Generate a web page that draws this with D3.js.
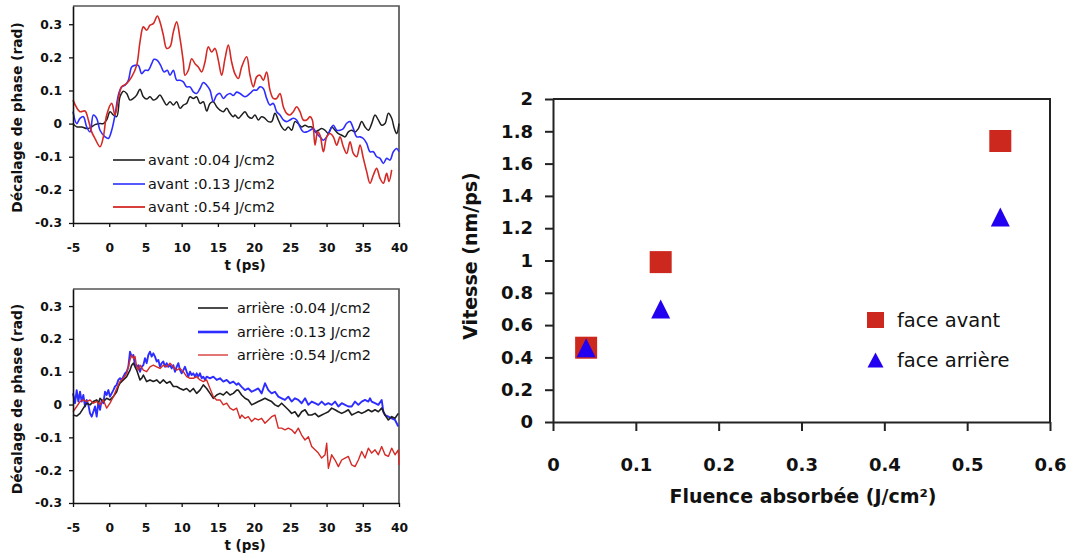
<!DOCTYPE html>
<html><head><meta charset="utf-8">
<script src="https://cdn.jsdelivr.net/npm/d3@7"></script>
<style>body{margin:0;background:#fff}svg{display:block}</style>
</head><body>
<svg id="c" width="1074" height="555"></svg>
<script>
// ---------- data ----------
const tTicks = [-5, 0, 5, 10, 15, 20, 25, 30, 35, 40];
const phaseTicks = [-0.3, -0.2, -0.1, 0, 0.1, 0.2, 0.3];
const phaseLabel = "Décalage de phase (rad)";
const timeLabel = "t (ps)";

const avant004 = [[-5,0],[-4.49,-0.01],[-3.8,-0.01],[-3.11,-0.015],[-2.65,-0.013],[-1.96,-0.003],[-1.27,0],[-0.81,0],[-0.35,0.011],[0.11,0.036],[0.57,0.026],[1.03,0.021],[1.49,0.081],[1.95,0.098],[2.41,0.091],[2.87,0.071],[3.33,0.076],[3.79,0.086],[4.25,0.104],[4.71,0.081],[5.17,0.074],[5.63,0.081],[6.09,0.071],[6.55,0.076],[7.01,0.086],[7.47,0.071],[7.93,0.056],[8.39,0.066],[8.85,0.056],[9.31,0.066],[9.77,0.046],[10.23,0.056],[10.69,0.061],[11.15,0.081],[11.61,0.076],[12.07,0.081],[12.53,0.061],[12.99,0.066],[13.45,0.038],[13.91,0.061],[14.37,0.066],[14.83,0.051],[15.29,0.041],[15.75,0.036],[16.21,0.046],[16.67,0.031],[17.13,0.021],[17.36,0.026],[17.82,0.016],[18.28,0.026],[18.74,0.036],[19.2,0.021],[19.66,0.016],[20.12,0.026],[20.58,0.011],[21.04,0.021],[21.5,0.016],[21.96,0.006],[22.42,0.006],[22.88,0.031],[23.34,0.011],[23.8,-0.01],[24.26,-0.02],[24.72,-0.01],[25.18,-0.02],[25.64,0.006],[26.1,0],[26.56,-0.01],[27.03,-0.005],[27.49,-0.01],[27.95,-0.01],[28.41,-0.025],[28.87,-0.02],[29.33,-0.015],[29.79,-0.02],[30.25,-0.03],[30.71,-0.01],[31.17,-0.02],[31.63,-0.03],[32.09,-0.035],[32.55,-0.04],[33.01,-0.025],[33.47,-0.02],[33.93,-0.025],[34.39,-0.015],[34.85,0.006],[35.31,-0.01],[35.77,-0.02],[36.23,0],[36.69,0.026],[37.15,0.011],[37.61,-0.005],[38.07,0],[38.53,0.031],[38.99,0.016],[39.36,-0.015],[39.68,-0.03],[40,0]];

const avant013 = [[-5,0.036],[-4.49,0],[-4.03,0.016],[-3.57,0.021],[-3.11,-0.01],[-2.65,-0.025],[-2.19,0.026],[-1.73,0.016],[-1.27,-0.02],[-0.58,-0.04],[-0.12,-0.045],[0.34,-0.02],[0.8,0.026],[1.26,0.086],[1.72,0.111],[2.18,0.116],[2.64,0.131],[3.1,0.171],[3.56,0.176],[4.02,0.176],[4.48,0.151],[4.94,0.161],[5.4,0.161],[5.86,0.181],[6.18,0.194],[6.64,0.191],[7.1,0.176],[7.56,0.156],[8.02,0.161],[8.39,0.146],[8.85,0.161],[9.31,0.131],[9.77,0.131],[10.23,0.126],[10.69,0.111],[11.15,0.111],[11.61,0.096],[12.07,0.091],[12.53,0.106],[12.99,0.124],[13.45,0.116],[13.91,0.101],[14.37,0.066],[14.83,0.086],[15.29,0.091],[15.75,0.076],[16.21,0.086],[16.67,0.091],[17.13,0.085],[17.6,0.095],[18.05,0.091],[18.74,0.081],[19.43,0.091],[19.89,0.101],[20.35,0.101],[20.81,0.111],[21.27,0.106],[21.73,0.076],[22.19,0.056],[22.65,0.061],[23.11,0.036],[23.57,0.026],[24.03,0.011],[24.49,0.006],[24.95,0.011],[25.41,0.016],[25.87,0.011],[26.33,-0.01],[26.79,-0.025],[27.26,-0.025],[27.72,-0.02],[28.18,-0.015],[28.64,-0.03],[29.1,-0.04],[29.56,-0.05],[30.02,-0.04],[30.48,-0.02],[30.94,-0.005],[31.4,-0.02],[31.86,-0.02],[32.32,-0.015],[32.78,0.001],[33.24,0.006],[33.7,-0.015],[34.16,-0.04],[34.62,-0.04],[35.08,-0.045],[35.54,-0.06],[36,-0.085],[36.46,-0.085],[36.92,-0.1],[37.38,-0.105],[37.84,-0.12],[38.3,-0.105],[38.76,-0.11],[39.22,-0.085],[39.68,-0.075],[40,-0.085]];

const avant054 = [[-5,0.071],[-4.03,0.036],[-3.34,0.038],[-2.88,0.011],[-2.42,-0.025],[-1.96,-0.045],[-1.27,-0.07],[-0.81,-0.04],[-0.35,0.026],[0.34,0.061],[0.8,0.026],[1.26,0.076],[1.72,0.111],[2.41,0.121],[3.1,0.141],[3.79,0.176],[4.25,0.247],[4.71,0.292],[5.17,0.282],[5.63,0.297],[6.09,0.302],[6.64,0.325],[7.01,0.307],[7.47,0.267],[7.93,0.227],[8.39,0.232],[8.85,0.277],[9.31,0.307],[9.77,0.257],[10.23,0.186],[10.46,0.146],[10.92,0.161],[11.38,0.196],[11.84,0.181],[12.3,0.171],[12.76,0.156],[13.22,0.186],[13.68,0.232],[14.14,0.216],[14.6,0.227],[15.06,0.191],[15.52,0.146],[15.98,0.196],[16.44,0.237],[16.9,0.186],[17.36,0.15],[17.82,0.136],[18.28,0.171],[18.97,0.202],[19.43,0.146],[19.89,0.111],[20.35,0.141],[20.81,0.146],[21.27,0.131],[21.73,0.156],[22.19,0.101],[22.65,0.076],[23.11,0.076],[23.57,0.091],[24.03,0.051],[24.49,0.031],[24.95,0.026],[25.41,0.036],[25.87,0.051],[26.33,0.036],[26.79,0.011],[27.26,0.011],[27.72,0.021],[28.04,0.011],[28.41,-0.065],[28.77,-0.025],[29.1,-0.035],[29.56,-0.085],[30.02,-0.04],[30.48,-0.03],[30.94,-0.04],[31.4,-0.065],[31.86,-0.04],[32.32,-0.07],[32.78,-0.09],[33.24,-0.055],[33.7,-0.09],[34.16,-0.1],[34.62,-0.065],[35.08,-0.105],[35.54,-0.145],[36,-0.18],[36.46,-0.155],[36.92,-0.135],[37.38,-0.165],[37.84,-0.18],[38.3,-0.15],[38.62,-0.175],[38.99,-0.14]];

const arriere004 = [[-5,-0.032],[-4.49,-0.035],[-4.03,-0.027],[-3.57,-0.011],[-3.11,0.004],[-2.65,-0.001],[-2.19,0.009],[-1.73,0.014],[-1.5,0.004],[-1.27,0.019],[-0.81,0.009],[-0.35,0.019],[0.11,0.014],[0.57,0.024],[1.03,0.039],[1.26,0.055],[1.49,0.065],[1.95,0.075],[2.41,0.085],[2.87,0.105],[3.1,0.12],[3.33,0.126],[3.56,0.115],[3.79,0.105],[4.25,0.075],[4.48,0.08],[4.71,0.09],[5.17,0.07],[5.63,0.075],[6.09,0.07],[6.55,0.075],[7.01,0.065],[7.47,0.075],[7.93,0.065],[8.39,0.07],[8.85,0.055],[9.31,0.055],[9.77,0.049],[10.23,0.044],[10.69,0.049],[11.15,0.039],[11.61,0.049],[12.07,0.034],[12.53,0.044],[12.99,0.06],[13.45,0.049],[13.91,0.034],[14.37,0.019],[14.83,0.029],[15.29,0.034],[15.75,0.029],[16.21,0.039],[16.67,0.029],[17.13,0.034],[17.59,0.044],[17.82,0.044],[18.28,0.029],[18.74,0.019],[19.2,0.014],[19.66,-0.001],[20.12,0.004],[20.58,0.009],[21.04,0.014],[21.5,0.019],[21.96,0.014],[22.42,0.009],[22.88,-0.001],[23.34,-0.006],[23.8,0.004],[24.26,-0.006],[24.72,-0.016],[25.18,-0.027],[25.64,-0.022],[26.1,-0.037],[26.56,-0.022],[27.03,-0.016],[27.49,-0.032],[27.95,-0.032],[28.41,-0.027],[28.87,-0.037],[29.33,-0.032],[29.79,-0.027],[30.25,-0.022],[30.71,-0.011],[31.17,-0.016],[31.63,-0.022],[32.09,-0.027],[32.55,-0.022],[33.01,-0.016],[33.47,-0.032],[33.93,-0.027],[34.39,-0.022],[34.85,-0.027],[35.31,-0.022],[35.77,-0.016],[36.23,-0.022],[36.69,-0.016],[37.15,-0.022],[37.61,-0.011],[38.07,-0.032],[38.53,-0.047],[38.99,-0.037],[39.45,-0.042],[39.91,-0.027]];

const arriere013 = [[-5,0.034],[-4.72,0.004],[-4.49,0.044],[-4.26,0.009],[-4.03,0.039],[-3.8,0.009],[-3.57,0.029],[-3.34,-0.006],[-3.11,0.014],[-2.88,-0.001],[-2.65,-0.027],[-2.42,-0.037],[-2.19,-0.022],[-1.96,-0.006],[-1.73,-0.037],[-1.5,0.009],[-1.27,-0.016],[-1.04,0.014],[-0.81,0.004],[-0.58,0.039],[-0.35,0.029],[-0.12,0.044],[0.11,0.024],[0.34,0.034],[0.57,0.044],[0.8,0.055],[1.03,0.06],[1.26,0.075],[1.49,0.08],[1.72,0.075],[1.95,0.085],[2.18,0.095],[2.41,0.1],[2.64,0.115],[2.87,0.161],[3.1,0.146],[3.33,0.151],[3.56,0.12],[3.79,0.115],[4.02,0.12],[4.25,0.1],[4.48,0.115],[4.71,0.12],[4.94,0.141],[5.17,0.126],[5.4,0.151],[5.63,0.161],[5.86,0.146],[6.09,0.156],[6.32,0.146],[6.55,0.131],[6.78,0.136],[7.01,0.115],[7.24,0.126],[7.47,0.131],[7.7,0.115],[7.93,0.126],[8.16,0.115],[8.39,0.12],[8.62,0.11],[8.85,0.12],[9.08,0.1],[9.31,0.115],[9.54,0.126],[9.77,0.105],[10,0.095],[10.23,0.105],[10.46,0.115],[10.69,0.1],[10.92,0.085],[11.15,0.1],[11.38,0.09],[11.61,0.095],[11.84,0.085],[12.07,0.095],[12.3,0.085],[12.53,0.095],[12.76,0.08],[12.99,0.085],[13.22,0.075],[13.45,0.085],[13.91,0.08],[14.37,0.085],[14.83,0.075],[15.29,0.08],[15.75,0.07],[16.21,0.075],[16.67,0.065],[17.13,0.07],[17.59,0.06],[17.82,0.065],[18.28,0.054],[18.74,0.044],[19.2,0.049],[19.66,0.039],[20.12,0.044],[20.58,0.049],[21.04,0.034],[21.5,0.065],[21.96,0.044],[22.42,0.034],[22.88,0.039],[23.34,0.024],[23.8,0.019],[24.26,0.014],[24.72,0.024],[25.18,0.009],[25.64,0.019],[26.1,0.014],[26.56,0.004],[27.03,0.019],[27.49,-0.001],[27.95,0.009],[28.41,0.004],[28.87,-0.001],[29.33,0.009],[29.79,-0.001],[30.25,0.004],[30.71,-0.001],[31.17,0.009],[31.63,-0.006],[32.09,0.004],[32.55,-0.001],[33.01,-0.006],[33.47,-0.006],[33.93,0.009],[34.39,-0.001],[34.85,0.009],[35.31,0.014],[35.77,0.009],[36,0.019],[36.23,0.009],[36.69,0.004],[37.15,-0.001],[37.61,0.014],[37.84,-0.022],[38.07,-0.032],[38.53,-0.037],[38.99,-0.042],[39.45,-0.047],[39.91,-0.067]];

const arriere054 = [[-5,-0.022],[-4.49,-0.006],[-4.03,0.009],[-3.57,0.014],[-3.11,0.009],[-2.65,0.014],[-2.19,0.004],[-1.73,0.009],[-1.27,-0.001],[-0.81,0.014],[-0.35,-0.011],[0.11,0.004],[0.57,0.024],[1.03,0.049],[1.49,0.07],[1.95,0.08],[2.41,0.095],[2.64,0.115],[2.87,0.136],[3.1,0.151],[3.33,0.141],[3.56,0.146],[3.79,0.115],[4.02,0.105],[4.25,0.12],[4.71,0.105],[5.17,0.1],[5.63,0.115],[6.09,0.12],[6.55,0.115],[7.01,0.11],[7.47,0.12],[7.93,0.115],[8.39,0.126],[8.85,0.115],[9.31,0.105],[9.77,0.11],[10.23,0.1],[10.69,0.085],[11.15,0.08],[11.61,0.08],[12.07,0.085],[12.53,0.075],[12.99,0.07],[13.45,0.075],[13.91,0.049],[14.37,0.024],[14.83,0.014],[15.29,0.014],[15.75,-0.001],[16.21,0.004],[16.67,-0.011],[17.13,-0.017],[17.59,-0.011],[18.05,-0.042],[18.28,-0.032],[18.74,-0.042],[19.2,-0.037],[19.66,-0.052],[20.12,-0.042],[20.58,-0.047],[21.04,-0.042],[21.5,-0.057],[21.96,-0.047],[22.42,-0.037],[22.88,-0.032],[23.34,-0.072],[23.8,-0.072],[24.26,-0.077],[24.72,-0.072],[25.18,-0.077],[25.64,-0.088],[26.1,-0.072],[26.56,-0.093],[27.03,-0.108],[27.49,-0.098],[27.95,-0.128],[28.41,-0.138],[28.87,-0.148],[29.33,-0.163],[29.79,-0.153],[30.02,-0.118],[30.25,-0.194],[30.71,-0.153],[31.17,-0.169],[31.63,-0.189],[32.09,-0.169],[32.55,-0.163],[33.01,-0.158],[33.47,-0.184],[33.93,-0.189],[34.39,-0.169],[34.85,-0.143],[35.31,-0.163],[35.77,-0.133],[36.23,-0.148],[36.69,-0.138],[37.15,-0.153],[37.61,-0.128],[38.07,-0.153],[38.53,-0.158],[38.99,-0.133],[39.45,-0.153],[39.91,-0.138],[40,-0.184]];

const topLegend = ["avant :0.04 J/cm2", "avant :0.13 J/cm2", "avant :0.54 J/cm2"];
const bottomLegend = ["arrière :0.04 J/cm2", "arrière :0.13 J/cm2", "arrière :0.54 J/cm2"];

const fluence = [0.04, 0.13, 0.54];
const vitesseAvant = [0.46, 0.99, 1.74];
const vitesseArriere = [0.46, 0.70, 1.27];
const fluenceTicks = [0, 0.1, 0.2, 0.3, 0.4, 0.5, 0.6];
const vitesseTicks = [0, 0.2, 0.4, 0.6, 0.8, 1, 1.2, 1.4, 1.6, 1.8, 2];
const scatterLegend = ["face avant", "face arrière"];
const fluenceLabel = "Fluence absorbée (J/cm²)";
const vitesseLabel = "Vitesse (nm/ps)";

// ---------- drawing ----------
const svg = d3.select("#c");
svg.append("rect").attr("width", 1074).attr("height", 555).attr("fill", "#fff");
const FONT = "'DejaVu Sans', Verdana, sans-serif";
const BLACK = "#1e1e1e", BLUE = "#2d2dff", RED = "#d42a26";

function phasePanel(cfg) {
  const x = d3.scaleLinear().domain([-5, 40]).range([73, 399]);
  const y = d3.scaleLinear().domain([-0.3, cfg.yMax]).range([cfg.bottom, cfg.top]);
  const g = svg.append("g");
  g.append("path")
    .attr("d", `M${x(-5)},${y(cfg.yMax)}H${x(40)}V${y(-0.3)}`)
    .attr("fill", "none").attr("stroke", "#555").attr("stroke-width", 1.7);
  const line = d3.line().x(d => x(d[0])).y(d => y(d[1])).curve(cfg.curve);
  cfg.series.forEach(s => {
    g.append("path").datum(s.data).attr("d", line)
      .attr("fill", "none").attr("stroke", s.color).attr("stroke-width", s.width)
      .attr("stroke-linejoin", "round");
  });
  const fmtY = d => d === 0 ? "0" : d.toFixed(1);
  const ax = g.append("g").attr("transform", `translate(0,${y(-0.3)})`)
    .call(d3.axisBottom(x).tickValues(tTicks).tickSize(4).tickSizeOuter(0).tickPadding(16).tickFormat(d => String(d)));
  const ay = g.append("g").attr("transform", `translate(${x(-5)},0)`)
    .call(d3.axisLeft(y).tickValues(phaseTicks).tickSize(4).tickSizeOuter(0).tickPadding(7).tickFormat(fmtY));
  [ax, ay].forEach(a => {
    a.select(".domain").attr("stroke", "#111").attr("stroke-width", 1.6);
    a.selectAll(".tick line").attr("stroke", "#111").attr("stroke-width", 1.3);
    a.selectAll("text").attr("font-family", FONT).attr("font-weight", "bold")
      .attr("font-size", 12.3).attr("fill", "#111");
  });
  g.append("text").attr("x", 245).attr("y", cfg.bottom + 47)
    .attr("text-anchor", "middle").attr("font-family", FONT).attr("font-weight", "bold")
    .attr("font-size", 13.5).attr("fill", "#111").text(timeLabel);
  const cy = (cfg.top + cfg.bottom) / 2 + 3;
  g.append("text").attr("transform", `translate(22,${cy}) rotate(-90)`)
    .attr("text-anchor", "middle").attr("font-family", FONT).attr("font-weight", "bold")
    .attr("font-size", 13.8).attr("fill", "#111").text(phaseLabel);
  cfg.series.forEach(s => {
    const ly = cfg.legY[s.row];
    g.append("line").attr("x1", cfg.legX1).attr("x2", cfg.legX2).attr("y1", ly).attr("y2", ly)
      .attr("stroke", s.color).attr("stroke-width", s.legWidth);
    g.append("text").attr("x", cfg.legTextX).attr("y", ly + 5)
      .attr("font-family", FONT).attr("font-size", 14.4).attr("fill", "#111").text(s.label);
  });
}

phasePanel({
  top: 6, bottom: 223, yMax: 0.355, curve: d3.curveCatmullRom.alpha(0.5),
  legX1: 113, legX2: 145, legTextX: 148, legY: [160, 184, 207],
  series: [
    {data: avant004, color: BLACK, width: 1.5, legWidth: 1.6, label: topLegend[0], row: 0},
    {data: avant013, color: BLUE, width: 1.6, legWidth: 1.6, label: topLegend[1], row: 1},
    {data: avant054, color: RED, width: 1.6, legWidth: 1.8, label: topLegend[2], row: 2}
  ]
});
phasePanel({
  top: 289, bottom: 503, yMax: 0.352, curve: d3.curveLinear,
  legX1: 198, legX2: 228, legTextX: 237, legY: [308, 332, 355],
  series: [
    {data: arriere013, color: BLUE, width: 1.9, legWidth: 2.6, label: bottomLegend[1], row: 1},
    {data: arriere004, color: BLACK, width: 1.6, legWidth: 1.6, label: bottomLegend[0], row: 0},
    {data: arriere054, color: RED, width: 1.4, legWidth: 1.3, label: bottomLegend[2], row: 2}
  ]
});

// ---------- scatter panel ----------
const xF = d3.scaleLinear().domain([0, 0.6]).range([553, 1050]);
const yV = d3.scaleLinear().domain([0, 2]).range([422, 99]);
const gs = svg.append("g");
gs.append("path").attr("d", `M${xF(0)},${yV(2)}H${xF(0.6)}V${yV(0)}`)
  .attr("fill", "none").attr("stroke", "#222").attr("stroke-width", 2);
const axF = gs.append("g").attr("transform", `translate(0,${yV(0)})`)
  .call(d3.axisBottom(xF).tickValues(fluenceTicks).tickSize(9).tickSizeOuter(0).tickPadding(27).tickFormat(d => String(+d.toFixed(1))));
const axV = gs.append("g").attr("transform", `translate(${xF(0)},0)`)
  .call(d3.axisLeft(yV).tickValues(vitesseTicks).tickSize(8).tickSizeOuter(0).tickPadding(12).tickFormat(d => String(+d.toFixed(1))));
[axF, axV].forEach(a => {
  a.select(".domain").attr("stroke", "#222").attr("stroke-width", 2);
  a.selectAll(".tick line").attr("stroke", "#222").attr("stroke-width", 2);
  a.selectAll("text").attr("font-family", FONT).attr("font-weight", "bold")
    .attr("font-size", 18).attr("fill", "#111");
});
gs.append("text").attr("x", 803).attr("y", 503).attr("text-anchor", "middle")
  .attr("font-family", FONT).attr("font-weight", "bold").attr("font-size", 19).attr("fill", "#111").text(fluenceLabel);
gs.append("text").attr("transform", `translate(477,256) rotate(-90)`).attr("text-anchor", "middle")
  .attr("font-family", FONT).attr("font-weight", "bold").attr("font-size", 19).attr("fill", "#111").text(vitesseLabel);

const SQ = 22, TW = 19, TH = 19;
const RED2 = "#cd281e", BLUE2 = "#2200f0";
gs.selectAll("rect.av").data(fluence).join("rect").attr("class", "av")
  .attr("x", d => xF(d) - SQ / 2).attr("y", (d, i) => yV(vitesseAvant[i]) - SQ / 2)
  .attr("width", SQ).attr("height", SQ).attr("fill", RED2);
const tri = (cx, cy, w, h) => `M${cx - w / 2},${cy + h / 2}L${cx},${cy - h / 2}L${cx + w / 2},${cy + h / 2}Z`;
gs.selectAll("path.ar").data(fluence).join("path").attr("class", "ar")
  .attr("d", (d, i) => tri(xF(d), yV(vitesseArriere[i]), TW, TH)).attr("fill", BLUE2);

gs.append("rect").attr("x", 867).attr("y", 312).attr("width", 17).attr("height", 16).attr("fill", RED2);
gs.append("path").attr("d", tri(875.5, 360, 16, 15)).attr("fill", BLUE2);
gs.append("text").attr("x", 897).attr("y", 327).attr("font-family", FONT).attr("font-size", 19.5).attr("fill", "#111").text(scatterLegend[0]);
gs.append("text").attr("x", 897).attr("y", 367).attr("font-family", FONT).attr("font-size", 19.5).attr("fill", "#111").text(scatterLegend[1]);
</script>
</body></html>
